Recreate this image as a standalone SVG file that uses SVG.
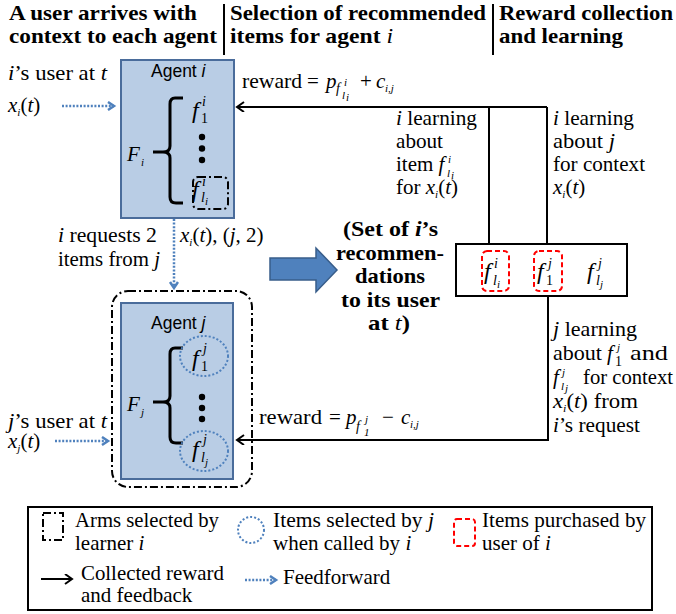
<svg xmlns="http://www.w3.org/2000/svg" width="676" height="614" viewBox="0 0 676 614" font-family="'Liberation Serif', 'DejaVu Serif', serif">
<style>
.t{font-family:'Liberation Serif',serif;font-size:21px}
.h{font-family:'Liberation Serif',serif;font-size:21px;font-weight:bold}
.b{font-family:'Liberation Serif',serif;font-size:21px;font-weight:bold}
.i{font-style:italic}
.f{font-family:'Liberation Serif',serif;font-size:24px;font-style:italic}
.sp{font-family:'Liberation Serif',serif;font-size:14px;font-style:italic}
.sb{font-family:'Liberation Serif',serif;font-size:14px}
.ss{font-family:'Liberation Serif',serif;font-size:11px;font-style:italic}
.s{font-family:'Liberation Sans',sans-serif;font-size:17.5px}
.agent{fill:#b9cde5;stroke:#4a6c9b;stroke-width:2}
.dd{fill:none;stroke:#000;stroke-width:2;stroke-dasharray:8,3,2,3}
.blu{fill:none;stroke:#4f81bd;stroke-width:2.5;stroke-dasharray:2,1.6}
.red{fill:none;stroke:#ff0000;stroke-width:2;stroke-dasharray:5,3}
.ln{fill:none;stroke:#000;stroke-width:2}
.br{fill:none;stroke:#000;stroke-width:3}
</style>
<defs>
<marker id="ah" markerWidth="12" markerHeight="12" refX="9" refY="5" orient="auto" markerUnits="userSpaceOnUse">
<path d="M2,0 L9,5 L2,10" fill="none" stroke="#000" stroke-width="2"/>
</marker>
<marker id="bh" markerWidth="12" markerHeight="12" refX="8" refY="5" orient="auto" markerUnits="userSpaceOnUse">
<path d="M2,1 L8,5 L2,9" fill="none" stroke="#4f81bd" stroke-width="2.5"/>
</marker>
</defs>

<g id="header">
<text class="h" x="9" y="20" textLength="188" lengthAdjust="spacingAndGlyphs">A user arrives with</text>
<text class="h" x="9" y="43" textLength="208" lengthAdjust="spacingAndGlyphs">context to each agent</text>
<text class="h" x="230" y="20" textLength="256" lengthAdjust="spacingAndGlyphs">Selection of recommended</text>
<text class="h" x="230" y="43" textLength="163" lengthAdjust="spacingAndGlyphs">items for agent <tspan class="i" font-weight="normal">i</tspan></text>
<text class="h" x="499" y="20" textLength="174" lengthAdjust="spacingAndGlyphs">Reward collection</text>
<text class="h" x="499" y="43" textLength="124" lengthAdjust="spacingAndGlyphs">and learning</text>
<path class="ln" d="M224,4 V55 M493,4 V55"/>
</g>

<g id="agent-i">
<rect class="agent" x="121" y="60" width="113" height="158"/>
<text class="s" x="151" y="77">Agent<tspan class="i"> i</tspan></text>
<path class="br" d="M183,98 H175 Q170,98 170,104 V146 Q170,152 163,152 H153 M163,152 Q170,152 170,158 V197 Q170,203 176,203 H183"/>
<text class="t i" x="127" y="161" font-size="22">F</text>
<text class="ss" x="141" y="166" font-size="13">i</text>
<text class="f" x="192" y="118">f</text>
<text class="sp" x="202" y="106">i</text>
<text class="sb" x="201" y="123">1</text>
<circle cx="202" cy="137" r="3.2"/>
<circle cx="202" cy="148.5" r="3.2"/>
<circle cx="202" cy="160" r="3.2"/>
<text class="f" x="192" y="197">f</text>
<text class="sp" x="202" y="186">i</text>
<text class="sp" x="201" y="202">l</text>
<text class="ss" x="205" y="205">i</text>
<rect class="dd" x="193" y="177" width="35" height="32" rx="5"/>
</g>

<g id="user-i">
<text class="t" x="8" y="80" textLength="99" lengthAdjust="spacingAndGlyphs"><tspan class="i">i</tspan>’s user at <tspan class="i">t</tspan></text>
<text class="t" x="8" y="112" font-size="22"><tspan class="i">x</tspan><tspan class="ss" font-size="14" dy="4">i</tspan><tspan dy="-4">(</tspan><tspan class="i">t</tspan>)</text>
</g>

<g id="agent-j">
<rect class="dd" x="112" y="291" width="140" height="196" rx="16"/>
<rect class="agent" x="121" y="303" width="112" height="176"/>
<text class="s" x="151" y="329">Agent<tspan class="i"> j</tspan></text>
<path class="br" d="M183,348 H175 Q170,348 170,354 V396 Q170,402 163,402 H153 M163,402 Q170,402 170,408 V437 Q170,443 176,443 H183"/>
<text class="t i" x="127" y="411" font-size="22">F</text>
<text class="ss" x="141" y="416" font-size="13">j</text>
<ellipse cx="204" cy="356" rx="24" ry="20" fill="none" stroke="#4f81bd" stroke-width="2" stroke-dasharray="2,2"/>
<text class="f" x="192" y="366">f</text>
<text class="sp" x="203" y="353">j</text>
<text class="sb" x="201" y="371">1</text>
<circle cx="202" cy="397" r="3.2"/>
<circle cx="202" cy="408" r="3.2"/>
<circle cx="202" cy="419" r="3.2"/>
<ellipse cx="204" cy="451" rx="24" ry="20" fill="none" stroke="#4f81bd" stroke-width="2" stroke-dasharray="2,2"/>
<text class="f" x="192" y="457">f</text>
<text class="sp" x="203" y="444">j</text>
<text class="sp" x="201" y="462">l</text>
<text class="ss" x="205" y="466">j</text>
</g>

<g id="user-j">
<text class="t" x="8" y="428" textLength="99" lengthAdjust="spacingAndGlyphs"><tspan class="i">j</tspan>’s user at <tspan class="i">t</tspan></text>
<text class="t" x="8" y="448" font-size="22"><tspan class="i">x</tspan><tspan class="ss" font-size="14" dy="4">j</tspan><tspan dy="-4">(</tspan><tspan class="i">t</tspan>)</text>
</g>

<g id="request-labels">
<text class="t" x="58" y="242" textLength="99" lengthAdjust="spacingAndGlyphs"><tspan class="i">i</tspan> requests 2</text>
<text class="t" x="58" y="266" textLength="102" lengthAdjust="spacingAndGlyphs">items from <tspan class="i">j</tspan></text>
<text class="t" x="180" y="242"><tspan class="i">x</tspan><tspan class="ss" font-size="13" dy="4">i</tspan><tspan dy="-4">(</tspan><tspan class="i">t</tspan>), (<tspan class="i">j</tspan>, 2)</text>
</g>

<g id="recommendation-set">
<rect x="456" y="244" width="171" height="52" fill="#fff" stroke="#000" stroke-width="2"/>
<rect class="red" x="482" y="251" width="27" height="40" rx="5"/>
<rect class="red" x="534" y="251" width="28" height="40" rx="5"/>
<text class="f" x="484" y="279">f</text>
<text class="sp" x="494" y="268">i</text>
<text class="sp" x="493" y="285">l</text>
<text class="ss" x="497" y="288">i</text>
<text class="f" x="537" y="279">f</text>
<text class="sp" x="548" y="268">j</text>
<text class="sb" x="546" y="285">1</text>
<text class="f" x="587" y="279">f</text>
<text class="sp" x="598" y="268">j</text>
<text class="sp" x="596" y="285">l</text>
<text class="ss" x="600" y="288">j</text>
</g>

<g id="middle">
<polygon points="270,258 316,258 316,248 337,270 316,292 316,280 270,280" fill="#4f81bd" stroke="#385d8a" stroke-width="1.5"/>
<text class="b" x="343" y="236" textLength="95" lengthAdjust="spacingAndGlyphs">(Set of <tspan class="i">i</tspan>’s</text>
<text class="b" x="336" y="260" textLength="108" lengthAdjust="spacingAndGlyphs">recommen-</text>
<text class="b" x="355" y="283" textLength="70" lengthAdjust="spacingAndGlyphs">dations</text>
<text class="b" x="341" y="307" textLength="99" lengthAdjust="spacingAndGlyphs">to its user</text>
<text class="b" x="368" y="330" textLength="42" lengthAdjust="spacingAndGlyphs">at <tspan class="i" font-weight="normal">t</tspan>)</text>
</g>

<g id="connectors">
<path class="ln" d="M547,107 H237" marker-end="url(#ah)"/>
<path class="ln" d="M489,107 V244 M547,107 V244"/>
<path class="ln" d="M548,296 V440 H237" marker-end="url(#ah)"/>
<path class="blu" d="M62,106 H114" marker-end="url(#bh)"/>
<path class="blu" d="M55,441 H108" marker-end="url(#bh)"/>
<path class="blu" d="M174,219 V288" marker-end="url(#bh)"/>
</g>

<g id="connector-labels">
<text class="t" x="242" y="88" textLength="60" lengthAdjust="spacingAndGlyphs">reward</text>
<text class="t" x="307" y="88">=</text>
<text class="t i" x="326" y="88">p</text>
<text class="sp" x="336" y="93">f</text>
<text class="ss" x="344" y="86">i</text>
<text class="ss" x="342" y="99">l</text>
<text class="ss" x="346" y="101" font-size="8">i</text>
<text class="t" x="360" y="88">+</text>
<text class="t i" x="376" y="88">c</text>
<text class="ss" x="385" y="92" font-size="13">i,j</text>

<text class="t" x="396" y="125" textLength="81" lengthAdjust="spacingAndGlyphs"><tspan class="i">i</tspan> learning</text>
<text class="t" x="396" y="148" textLength="47" lengthAdjust="spacingAndGlyphs">about</text>
<text class="t" x="396" y="171">item <tspan class="i">f</tspan></text>
<text class="ss" x="448" y="163">i</text>
<text class="ss" x="447" y="177">l</text>
<text class="ss" x="451" y="179" font-size="8">i</text>
<text class="t" x="396" y="194">for <tspan class="i">x</tspan><tspan class="ss" font-size="13" dy="4">i</tspan><tspan dy="-4">(</tspan><tspan class="i">t</tspan>)</text>

<text class="t" x="553" y="125" textLength="81" lengthAdjust="spacingAndGlyphs"><tspan class="i">i</tspan> learning</text>
<text class="t" x="553" y="148" textLength="62" lengthAdjust="spacingAndGlyphs">about <tspan class="i">j</tspan></text>
<text class="t" x="553" y="171" textLength="92" lengthAdjust="spacingAndGlyphs">for context</text>
<text class="t" x="553" y="194"><tspan class="i">x</tspan><tspan class="ss" font-size="13" dy="4">i</tspan><tspan dy="-4">(</tspan><tspan class="i">t</tspan>)</text>

<text class="t" x="553" y="336" textLength="84" lengthAdjust="spacingAndGlyphs"><tspan class="i">j</tspan> learning</text>
<text class="t" x="553" y="360" textLength="49" lengthAdjust="spacingAndGlyphs">about</text>
<text class="t i" x="607" y="360">f</text>
<text class="ss" x="617" y="351">j</text>
<text class="sb" x="615" y="366" font-size="12">1</text>
<text class="t" x="630" y="360" textLength="38" lengthAdjust="spacingAndGlyphs">and</text>
<text class="t i" x="553" y="384">f</text>
<text class="ss" x="562" y="376">j</text>
<text class="ss" x="561" y="390">l</text>
<text class="ss" x="565" y="392" font-size="8">j</text>
<text class="t" x="583" y="384" textLength="90" lengthAdjust="spacingAndGlyphs">for context</text>
<text class="t" x="553" y="408" textLength="85" lengthAdjust="spacingAndGlyphs"><tspan class="i">x</tspan><tspan class="ss" font-size="13" dy="4">i</tspan><tspan dy="-4">(</tspan><tspan class="i">t</tspan>) from</text>
<text class="t" x="553" y="432" textLength="87" lengthAdjust="spacingAndGlyphs"><tspan class="i">i</tspan>’s request</text>

<text class="t" x="259" y="424" textLength="63" lengthAdjust="spacingAndGlyphs">reward</text>
<text class="t" x="329" y="424">=</text>
<text class="t i" x="346" y="424">p</text>
<text class="sp" x="356" y="431">f</text>
<text class="ss" x="365" y="423">j</text>
<text class="ss" x="364" y="436" font-style="normal">1</text>
<text class="t" x="382" y="424">−</text>
<text class="t i" x="401" y="424">c</text>
<text class="ss" x="410" y="428" font-size="13">i,j</text>
</g>

<g id="legend">
<rect x="28" y="507" width="624" height="103" fill="#fff" stroke="#000" stroke-width="2"/>
<rect class="dd" x="43" y="513" width="20" height="27"/>
<text class="t" x="75" y="527" textLength="144" lengthAdjust="spacingAndGlyphs">Arms selected by</text>
<text class="t" x="75" y="550">learner <tspan class="i">i</tspan></text>
<ellipse cx="251" cy="530" rx="13" ry="13" fill="none" stroke="#4f81bd" stroke-width="2" stroke-dasharray="2,2"/>
<text class="t" x="273" y="527" textLength="161" lengthAdjust="spacingAndGlyphs">Items selected by <tspan class="i">j</tspan></text>
<text class="t" x="273" y="550">when called by <tspan class="i">i</tspan></text>
<rect class="red" x="454" y="519" width="21" height="27" rx="3"/>
<text class="t" x="482" y="527" textLength="164" lengthAdjust="spacingAndGlyphs">Items purchased by</text>
<text class="t" x="482" y="550">user of <tspan class="i">i</tspan></text>
<path class="ln" d="M41,579 H72" marker-end="url(#ah)"/>
<text class="t" x="81" y="580" textLength="143" lengthAdjust="spacingAndGlyphs">Collected reward</text>
<text class="t" x="81" y="602">and feedback</text>
<path class="blu" d="M245,580 H276" marker-end="url(#bh)"/>
<text class="t" x="283" y="584">Feedforward</text>
</g>
</svg>
